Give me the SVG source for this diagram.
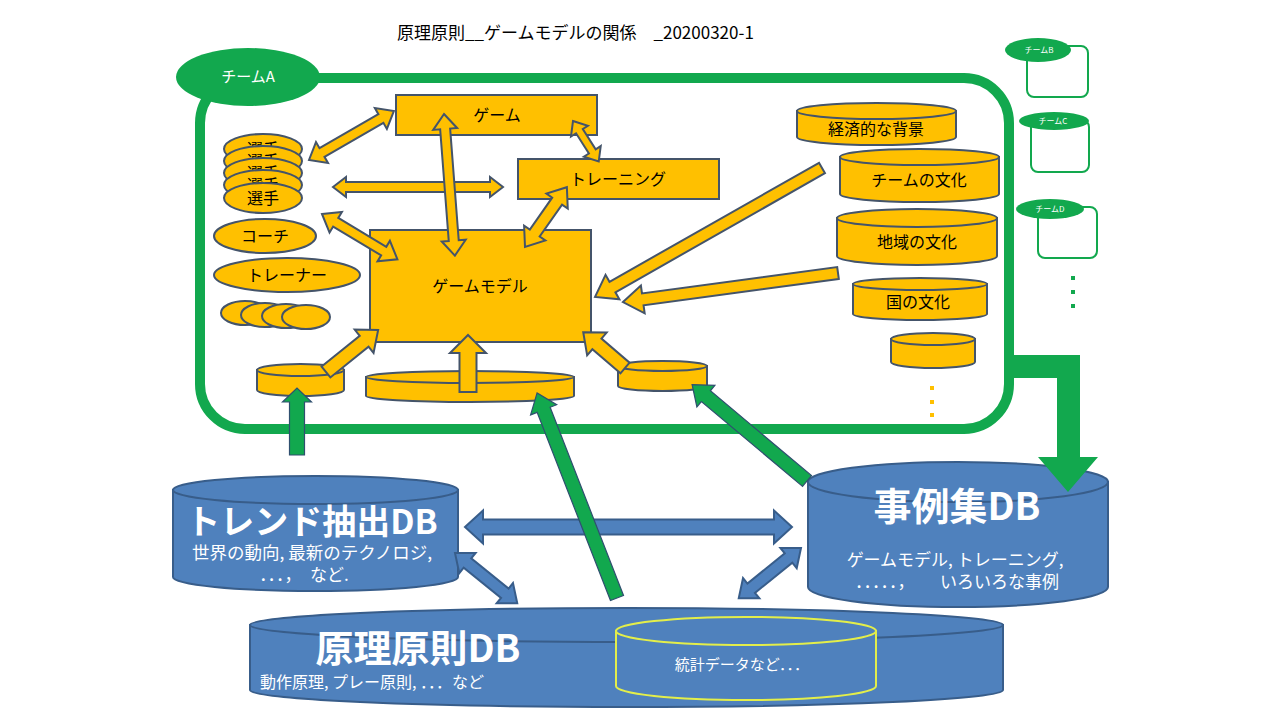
<svg xmlns="http://www.w3.org/2000/svg" width="1280" height="720" viewBox="0 0 1280 720">
<style>
.t{font-family:"Noto Sans CJK JP","Noto Sans",sans-serif;}
.o{fill:#ffc000;stroke:#44546a;stroke-width:2;}
.b{fill:#4f81bd;stroke:#385d8a;stroke-width:2;}
.g{fill:#12a84e;stroke:#2f4f6f;stroke-width:1.2;}
.gf{fill:#12a84e;}
.frame{fill:none;stroke:#12a84e;stroke-width:10;}
.sub{fill:none;stroke:#12a84e;stroke-width:2;}
.lbl{font-size:16px;fill:#000;text-anchor:middle;}
.wl{fill:#fff;text-anchor:middle;}
</style>
<defs>
<clipPath id="c1"><rect x="220" y="130" width="90" height="16"/></clipPath>
<clipPath id="c2"><rect x="220" y="142" width="90" height="16"/></clipPath>
<clipPath id="c3"><rect x="220" y="154" width="90" height="16"/></clipPath>
<clipPath id="c4"><rect x="220" y="166" width="90" height="17"/></clipPath>
</defs>
<rect width="1280" height="720" fill="#fff"/>
<text class="t" x="397" y="39" font-size="17" fill="#000">原理原則__ゲームモデルの関係　_20200320-1</text>

<g id="teamA">
<rect class="frame" x="200" y="78" width="809" height="351" rx="45"/>
<ellipse class="gf" cx="248" cy="77" rx="72" ry="29"/>
<text class="t wl" x="248" y="82" font-size="15">チームA</text>
</g>

<g id="teamB"><rect class="sub" x="1027" y="46" width="61" height="51" rx="7" fill="#fff"/><ellipse class="gf" cx="1038" cy="50" rx="33" ry="12"/><text class="t wl" x="1039" y="53" font-size="8">チームB</text></g>
<g id="teamC"><rect class="sub" x="1031" y="120" width="58" height="52" rx="7" fill="#fff"/><ellipse class="gf" cx="1054" cy="121" rx="35" ry="9"/><text class="t wl" x="1053" y="124" font-size="8">チームC</text></g>
<g id="teamD"><rect class="sub" x="1038" y="207" width="59" height="51" rx="7" fill="#fff"/><ellipse class="gf" cx="1050" cy="209" rx="34" ry="10"/><text class="t wl" x="1050" y="212" font-size="8">チームD</text></g>
<g id="teamDots" class="gf"><rect x="1071" y="276" width="4" height="4"/><rect x="1071" y="290" width="4" height="4"/><rect x="1071" y="304" width="4" height="4"/></g>

<g id="players">
<ellipse class="o" cx="263" cy="149" rx="39" ry="15"/><text class="t lbl" x="263" y="155" font-size="17" clip-path="url(#c1)">選手</text>
<ellipse class="o" cx="263" cy="161" rx="39" ry="15"/><text class="t lbl" x="263" y="167" font-size="17" clip-path="url(#c2)">選手</text>
<ellipse class="o" cx="263" cy="173" rx="39" ry="15"/><text class="t lbl" x="263" y="179" font-size="17" clip-path="url(#c3)">選手</text>
<ellipse class="o" cx="263" cy="185" rx="39" ry="15"/><text class="t lbl" x="263" y="191" font-size="17" clip-path="url(#c4)">選手</text>
<ellipse class="o" cx="263" cy="198" rx="39" ry="15"/><text class="t lbl" x="263" y="204" font-size="17">選手</text>
</g>
<g id="coach"><ellipse class="o" cx="265" cy="236" rx="51" ry="17"/><text class="t lbl" x="265" y="242">コーチ</text></g>
<g id="trainer"><ellipse class="o" cx="287" cy="275" rx="73" ry="17"/><text class="t lbl" x="287" y="281">トレーナー</text></g>
<g id="others">
<ellipse class="o" cx="245" cy="313" rx="24" ry="12"/>
<ellipse class="o" cx="265" cy="315" rx="24" ry="12"/>
<ellipse class="o" cx="286" cy="316" rx="24" ry="12"/>
<ellipse class="o" cx="306" cy="317" rx="24" ry="12"/>
</g>

<g id="game"><rect class="o" x="396" y="95" width="201" height="40"/><text class="t lbl" x="497" y="121">ゲーム</text></g>
<g id="training"><rect class="o" x="518" y="159" width="201" height="40"/><text class="t lbl" x="618" y="185">トレーニング</text></g>
<g id="gamemodel"><rect class="o" x="370" y="230" width="221" height="112"/><text class="t lbl" x="480" y="292">ゲームモデル</text></g>

<g id="economy"><path class="o" d="M797,111 V137 A79.5,8 0 0 0 956,137 V111 Z"/><ellipse class="o" cx="876.5" cy="111" rx="79.5" ry="8"/><text class="t lbl" x="876" y="135" font-size="17">経済的な背景</text></g>
<g id="teamculture"><path class="o" d="M840,157 V194 A79.5,8 0 0 0 999,194 V157 Z"/><ellipse class="o" cx="919.5" cy="157" rx="79.5" ry="8"/><text class="t lbl" x="919" y="186" font-size="17">チームの文化</text></g>
<g id="regionculture"><path class="o" d="M837,218 V256 A80,9 0 0 0 997,256 V218 Z"/><ellipse class="o" cx="917" cy="218" rx="80" ry="9"/><text class="t lbl" x="917" y="248" font-size="17">地域の文化</text></g>
<g id="countryculture"><path class="o" d="M853,284 V314 A67,6 0 0 0 987,314 V284 Z"/><ellipse class="o" cx="920" cy="284" rx="67" ry="6"/><text class="t lbl" x="918" y="308" font-size="17">国の文化</text></g>
<g id="blankculture"><path class="o" d="M891,339 V362 A42,6 0 0 0 975,362 V339 Z"/><ellipse class="o" cx="933" cy="339" rx="42" ry="6"/></g>
<g id="orangeDots" fill="#ffc000"><rect x="930" y="386" width="4" height="4"/><rect x="930" y="400" width="4" height="4"/><rect x="930" y="413" width="4" height="4"/></g>

<g id="cylLeft"><path class="o" d="M257,370 V390 A43.5,6 0 0 0 344,390 V370 Z"/><ellipse class="o" cx="300.5" cy="370" rx="43.5" ry="6"/></g>
<g id="cylMid"><path class="o" d="M366,377 V396 A104,6 0 0 0 574,396 V377 Z"/><ellipse class="o" cx="470" cy="377" rx="104" ry="6"/></g>
<g id="cylRight"><path class="o" d="M618,366 V386 A44.5,5 0 0 0 707,386 V366 Z"/><ellipse class="o" cx="662.5" cy="366" rx="44.5" ry="5"/></g>

<g id="trendDB"><path class="b" d="M173,490 V577 A142.5,14 0 0 0 458,577 V490 Z"/><ellipse class="b" cx="315.5" cy="490" rx="142.5" ry="14"/>
<text class="t wl" x="312" y="534" font-size="34" font-weight="bold">トレンド抽出DB</text>
<text class="t wl" x="312" y="559" font-size="17.5">世界の動向, 最新のテクノロジ,</text>
<text class="t wl" x="304" y="581" font-size="17">．．．，　など.</text></g>

<g id="caseDB"><path class="b" d="M808,482 V587 A150,20 0 0 0 1108,587 V482 Z"/><ellipse class="b" cx="958" cy="482" rx="150" ry="20"/>
<text class="t wl" x="957" y="520" font-size="38" font-weight="bold">事例集DB</text>
<text class="t wl" x="955" y="566" font-size="17">ゲームモデル, トレーニング,</text>
<text class="t wl" x="957" y="588" font-size="17">．．．．．，　　いろいろな事例</text></g>

<g id="principleDB"><path class="b" d="M250,625 V690 A376.5,17 0 0 0 1003,690 V625 Z"/><ellipse class="b" cx="626.5" cy="625" rx="376.5" ry="17"/>
<text class="t wl" x="418" y="662" font-size="38" font-weight="bold">原理原則DB</text>
<text class="t" x="260" y="688" font-size="16" fill="#fff">動作原理, プレー原則, ．．．など</text>
<g id="statsDB"><path d="M616,631 V686 A130,14 0 0 0 876,686 V631 Z" fill="#4f81bd" stroke="#e3ee4a" stroke-width="2"/><ellipse cx="746" cy="631" rx="130" ry="14" fill="#4f81bd" stroke="#e3ee4a" stroke-width="2"/>
<text class="t wl" x="742" y="670" font-size="15">統計データなど．．．</text></g></g>

<g id="connectors">
<polygon class="o" transform="translate(309,160) rotate(-30)" points="0,0 15,-12 15,-5 83,-5 83,-12 98,0 83,12 83,5 15,5 15,12"/>
<polygon class="o" transform="translate(333,187)" points="0,0 13,-10 13,-5 157,-5 157,-10 170,0 157,10 157,5 13,5 13,10"/>
<polygon class="o" transform="translate(444,114) rotate(85.6)" points="0,0 15,-12 15,-5 127,-5 127,-12 142,0 127,12 127,5 15,5 15,12"/>
<polygon class="o" transform="translate(573,121) rotate(57.6)" points="0,0 12,-10 12,-4 36,-4 36,-10 48,0 36,10 36,4 12,4 12,10"/>
<polygon class="o" transform="translate(525,247) rotate(-55)" points="0,0 17,-13 17,-6 56,-6 56,-13 73,0 56,13 56,6 17,6 17,13"/>
<polygon class="o" transform="translate(322,214) rotate(31)" points="0,0 16,-12 16,-5 72,-5 72,-12 88,0 72,12 72,5 16,5 16,12"/>
<polygon class="o" transform="translate(822,168) rotate(150.4)" points="0,-6 241,-6 241,-14 261,0 241,14 241,6 0,6"/>
<polygon class="o" transform="translate(838,273) rotate(172.3)" points="0,-6 197,-6 197,-14 217,0 197,14 197,6 0,6"/>
<polygon class="o" transform="translate(326,372) rotate(-38.9)" points="0,-7 49,-7 49,-15 67,0 49,15 49,7 0,7"/>
<polygon class="o" transform="translate(468,392) rotate(-90)" points="0,-8.5 39,-8.5 39,-18 57,0 39,18 39,8.5 0,8.5"/>
<polygon class="o" transform="translate(625,368) rotate(-139.4)" points="0,-7 37,-7 37,-15 55,0 37,15 37,7 0,7"/>
<polygon class="b" transform="translate(465,527)" points="0,0 18,-16.5 18,-7.5 309,-7.5 309,-16.5 327,0 309,16.5 309,7.5 18,7.5 18,16.5"/>
<polygon class="b" transform="translate(455,553) rotate(38.9)" points="0,0 16,-13 16,-6 64,-6 64,-13 80,0 64,13 64,6 16,6 16,13"/>
<polygon class="b" transform="translate(801,548) rotate(141.1)" points="0,0 16,-13 16,-6 64,-6 64,-13 80,0 64,13 64,6 16,6 16,13"/>
<polygon class="g" transform="translate(297,455) rotate(-90)" points="0,-7.5 53,-7.5 53,-14.5 67,0 53,14.5 53,7.5 0,7.5"/>
<polygon class="g" transform="translate(617,598) rotate(-111.3)" points="0,-7 202,-7 202,-14 220,0 202,14 202,7 0,7"/>
<polygon class="g" transform="translate(807,481) rotate(-140)" points="0,-7 132,-7 132,-14 150,0 132,14 132,7 0,7"/>
<polygon class="gf" points="1005,355 1080,355 1080,457 1098,457 1068,492 1038,457 1057,457 1057,378 1005,378"/>
</g>
</svg>
